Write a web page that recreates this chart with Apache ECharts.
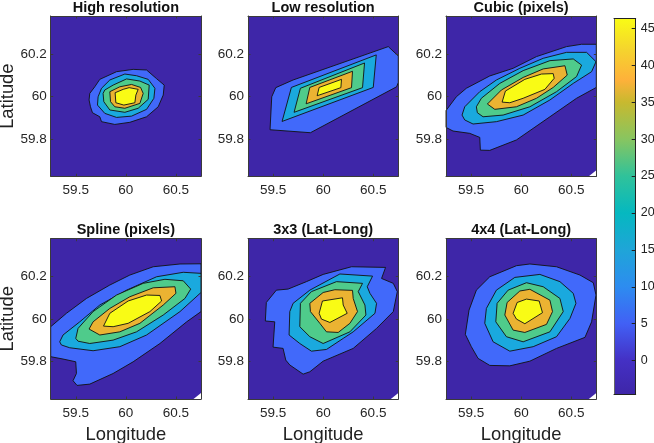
<!DOCTYPE html>
<html>
<head>
<meta charset="utf-8">
<style>html,body{margin:0;padding:0;background:#fff}#main{width:654px;height:443px}</style>
<script src="https://cdn.jsdelivr.net/npm/echarts@6/dist/echarts.min.js"></script>
</head>
<body>
<div id="main"></div>
<script>
// contour outlines in [lon, lat], lowest level first
var highRes = [
  [[59.633,59.983],[59.647,59.951],[59.667,59.923],[59.74,59.904],[59.757,59.881],[59.89,59.868],[60.04,59.878],[60.207,59.904],[60.323,59.951],[60.373,60.006],[60.383,60.053],[60.307,60.083],[60.207,60.124],[60.073,60.127],[59.907,60.116],[59.74,60.08],[59.69,60.045],[59.64,60.014]],
  [[59.723,59.998],[59.717,59.959],[59.79,59.92],[59.907,59.901],[60.057,59.907],[60.207,59.939],[60.28,59.991],[60.29,60.038],[60.223,60.08],[60.107,60.097],[59.99,60.105],[59.84,60.077],[59.757,60.038]],
  [[59.773,60.014],[59.78,59.975],[59.84,59.936],[59.99,59.925],[60.123,59.944],[60.223,59.986],[60.233,60.053],[60.14,60.072],[60.007,60.082],[59.873,60.053],[59.79,60.03]],
  [[59.84,60.022],[59.847,59.975],[59.89,59.951],[59.99,59.944],[60.14,59.967],[60.173,60.014],[60.147,60.042],[60.057,60.056],[59.94,60.045]],
  [[59.893,60.017],[59.9,59.97],[59.98,59.959],[60.09,59.97],[60.1,60.006],[60.123,60.033],[60.033,60.041],[59.973,60.033]]
];
var lowRes = [
  [[59.47,59.843],[59.873,59.829],[60.733,60.045],[60.75,60.065],[60.75,60.19],[60.65,60.234],[59.7,60.077],[59.527,60.041],[59.487,59.998]],
  [[59.59,59.882],[60.5,60.042],[60.53,60.195],[59.683,60.042]],
  [[59.71,59.925],[60.393,60.041],[60.413,60.157],[59.773,60.038]],
  [[59.83,59.965],[60.283,60.041],[60.293,60.118],[59.867,60.042]],
  [[59.94,60.003],[60.177,60.041],[60.183,60.08],[59.96,60.042]]
];
var cubicPixels = [
  [[59.25,59.933],[59.353,59.998],[59.453,60.038],[59.687,60.096],[59.92,60.132],[60.153,60.187],[60.453,60.234],[60.603,60.245],[60.75,60.245],[60.75,60.042],[60.553,59.991],[60.287,59.904],[59.953,59.795],[59.687,59.746],[59.593,59.747],[59.587,59.807],[59.487,59.826],[59.32,59.837],[59.25,59.854]],
  [[59.41,59.912],[59.437,59.951],[59.587,60.022],[59.753,60.077],[59.987,60.132],[60.22,60.179],[60.453,60.207],[60.653,60.207],[60.747,60.163],[60.703,60.116],[60.52,60.061],[60.287,59.983],[60.02,59.912],[59.753,59.881],[59.52,59.87],[59.437,59.889]],
  [[59.553,59.951],[59.603,59.991],[59.787,60.061],[60.02,60.121],[60.287,60.168],[60.52,60.176],[60.603,60.147],[60.553,60.093],[60.353,60.022],[60.087,59.951],[59.82,59.912],[59.62,59.904],[59.563,59.923]],
  [[59.663,59.964],[59.803,60.03],[60.02,60.089],[60.22,60.129],[60.437,60.144],[60.46,60.1],[60.32,60.042],[60.153,59.991],[59.953,59.951],[59.737,59.939]],
  [[59.81,59.973],[59.843,60.025],[60.037,60.08],[60.203,60.105],[60.32,60.107],[60.33,60.085],[60.237,60.033],[60.02,59.991],[59.887,59.97]]
];
var splinePixels = [
  [[59.25,59.964],[59.407,60.027],[59.607,60.097],[59.84,60.16],[60.04,60.207],[60.273,60.246],[60.54,60.259],[60.75,60.26],[60.75,60.035],[60.607,59.987],[60.34,59.885],[60.073,59.799],[59.873,59.744],[59.64,59.694],[59.513,59.688],[59.473,59.71],[59.507,59.744],[59.5,59.799],[59.373,59.812],[59.25,59.823]],
  [[59.34,59.893],[59.373,59.925],[59.54,59.987],[59.74,60.066],[60.007,60.136],[60.307,60.199],[60.573,60.22],[60.75,60.215],[60.75,60.125],[60.54,60.035],[60.207,59.925],[59.94,59.87],[59.673,59.851],[59.44,59.865],[59.357,59.878]],
  [[59.5,59.909],[59.523,59.956],[59.673,60.035],[59.907,60.113],[60.173,60.168],[60.39,60.187],[60.573,60.18],[60.647,60.141],[60.59,60.097],[60.373,60.019],[60.107,59.94],[59.873,59.901],[59.64,59.885],[59.523,59.896]],
  [[59.633,59.953],[59.673,59.987],[59.84,60.05],[60.04,60.105],[60.273,60.147],[60.49,60.152],[60.5,60.121],[60.373,60.066],[60.14,59.98],[59.94,59.94],[59.74,59.925]],
  [[59.777,59.967],[59.84,60.027],[60.023,60.085],[60.207,60.113],[60.34,60.111],[60.357,60.085],[60.24,60.035],[60.023,59.98],[59.873,59.964]]
];
var latLong3 = [
  [[59.423,59.991],[59.433,60.078],[59.533,60.136],[59.65,60.141],[59.833,60.176],[60,60.21],[60.283,60.246],[60.623,60.243],[60.583,60.191],[60.7,60.168],[60.74,60.129],[60.7,60.035],[60.533,59.956],[60.3,59.862],[60,59.802],[59.867,59.752],[59.8,59.741],[59.667,59.784],[59.627,59.807],[59.6,59.862],[59.5,59.868],[59.517,59.987]],
  [[59.66,59.925],[59.667,60.035],[59.7,60.074],[59.867,60.136],[60.167,60.212],[60.493,60.202],[60.44,60.152],[60.467,60.121],[60.533,60.074],[60.517,60.027],[60.3,59.94],[60.2,59.909],[60.033,59.857],[59.883,59.849],[59.767,59.885]],
  [[59.767,59.964],[59.773,60.074],[59.883,60.129],[60.133,60.176],[60.393,60.168],[60.35,60.129],[60.417,60.066],[60.427,60.019],[60.267,59.94],[60,59.885],[59.867,59.917]],
  [[59.867,60.074],[60,60.125],[60.117,60.138],[60.293,60.135],[60.3,60.097],[60.343,60.035],[60.267,59.98],[60.15,59.937],[60.033,59.94],[59.967,59.98],[59.873,60.035]],
  [[59.96,60.027],[59.993,60.085],[60.193,60.1],[60.2,60.066],[60.24,60.027],[60.067,59.984],[59.983,60]]
];
var latLong4 = [
  [[59.443,59.928],[59.48,60.042],[59.553,60.136],[59.687,60.199],[59.953,60.251],[60.087,60.259],[60.353,60.246],[60.587,60.207],[60.72,60.171],[60.747,60.113],[60.703,59.987],[60.637,59.914],[60.353,59.862],[60.087,59.802],[59.887,59.78],[59.687,59.782],[59.57,59.815],[59.503,59.87]],
  [[59.637,59.98],[59.653,60.05],[59.753,60.136],[59.937,60.196],[60.187,60.21],[60.387,60.176],[60.52,60.121],[60.547,60.074],[60.487,60.003],[60.353,59.917],[60.12,59.87],[59.887,59.849],[59.72,59.893]],
  [[59.747,59.987],[59.76,60.074],[59.87,60.136],[60.053,60.171],[60.22,60.152],[60.387,60.097],[60.42,60.035],[60.287,59.94],[60.02,59.893],[59.853,59.917]],
  [[59.837,60.019],[59.86,60.078],[59.987,60.132],[60.087,60.14],[60.287,60.089],[60.313,60.035],[60.253,59.975],[60.037,59.937],[59.92,59.948]],
  [[59.92,60.027],[59.96,60.078],[60.053,60.094],[60.18,60.085],[60.213,60.03],[60.037,59.978],[59.953,60]]
];

var panelTitles = ['High resolution','Low resolution','Cubic (pixels)','Spline (pixels)','3x3 (Lat-Long)','4x4 (Lat-Long)'];
var panelContours = [highRes, lowRes, cubicPixels, splinePixels, latLong3, latLong4];
var hasCorner = [false, false, true, true, true, true]; // white notch bottom right
var cornerLon = 60.675, cornerLat = 59.652;

var lonRange = [59.25, 60.75], latRange = [59.624, 60.378];
var lonTicks = [59.5, 60, 60.5], latTicks = [59.8, 60, 60.2];
var levelColors = ['#3e26a8','#4169fa','#1aa9de','#4fcb8b','#ebb332','#f9fb15'];

var cbarRange = [-4.56, 46.3];
var cbarTicks = [0, 5, 10, 15, 20, 25, 30, 35, 40, 45];
var cbarStops = [[-4.56,'#3e26a8'],[0,'#4430c4'],[5,'#4160f5'],[10,'#2d8cf0'],[15,'#1fa5d8'],[20,'#05b8c0'],[25,'#30c29a'],[30,'#88c560'],[35,'#c8b92f'],[38,'#feb13a'],[42,'#f5d32e'],[46.3,'#f9fb15']];

var font = '"Liberation Sans"';
var lineColor = '#3a3a3a';
var lefts = [50.7, 248, 446], tops = [16, 238.7];
var W = 150.3, H = 160.3;

var grid = [], xAxis = [], yAxis = [], series = [], title = [];

function polygonSeries(g, polys) {
  return {
    type: 'custom', coordinateSystem: 'cartesian2d', xAxisIndex: g * 2, yAxisIndex: g * 2,
    silent: true, z: 2, animation: false,
    data: polys.map(function (p, i) { return [i]; }),
    renderItem: function (params, api) {
      var i = api.value(0);
      var pts = polys[i].pts.map(function (c) { return api.coord(c); });
      return {
        type: 'polygon', shape: { points: pts },
        style: { fill: polys[i].color, stroke: polys[i].line ? '#111' : null, lineWidth: 0.9 }
      };
    }
  };
}

panelTitles.forEach(function (t, g) {
  var col = g % 3, row = g < 3 ? 0 : 1;
  grid.push({ left: lefts[col], top: tops[row], width: W, height: H, outerBoundsMode: 'none', show: false });
  title.push({ text: t, left: lefts[col] + W / 2, top: row ? 222 : 0, textAlign: 'center', padding: 0,
    textStyle: { fontFamily: font, fontSize: 14.5, fontWeight: 'bold', color: '#111' } });

  var xName = row ? 'Longitude' : '', yName = col ? '' : 'Latitude';
  ['bottom', 'top'].forEach(function (pos, k) {
    xAxis.push({
      gridIndex: g, type: 'value', position: pos, min: lonRange[0], max: lonRange[1], z: 5,
      name: k ? '' : xName, nameLocation: 'middle', nameGap: 26.5,
      nameTextStyle: { fontFamily: font, fontSize: 18.4, color: '#222' },
      splitLine: { show: false },
      axisLine: { show: true, onZero: false, lineStyle: { color: lineColor, width: 1 } },
      axisTick: { show: true, inside: true, length: 2.5, customValues: lonTicks, lineStyle: { color: lineColor } },
      axisLabel: { show: !k, customValues: lonTicks, formatter: function (v) { return String(v); }, margin: 7,
        fontFamily: font, fontSize: 13.5, color: '#262626' }
    });
  });
  ['left', 'right'].forEach(function (pos, k) {
    yAxis.push({
      gridIndex: g, type: 'value', position: pos, min: latRange[0], max: latRange[1], z: 5,
      name: k ? '' : yName, nameLocation: 'middle', nameGap: 32.5,
      nameTextStyle: { fontFamily: font, fontSize: 18.4, color: '#222' },
      splitLine: { show: false },
      axisLine: { show: true, onZero: false, lineStyle: { color: lineColor, width: 1 } },
      axisTick: { show: true, inside: true, length: 2.5, customValues: latTicks, lineStyle: { color: lineColor } },
      axisLabel: { show: !k, customValues: latTicks, formatter: function (v) { return String(v); }, margin: 4,
        fontFamily: font, fontSize: 13.5, color: '#262626' }
    });
  });

  var base = hasCorner[g]
    ? [[lonRange[0], latRange[0]], [cornerLon, latRange[0]], [lonRange[1], cornerLat], [lonRange[1], latRange[1]], [lonRange[0], latRange[1]]]
    : [[lonRange[0], latRange[0]], [lonRange[1], latRange[0]], [lonRange[1], latRange[1]], [lonRange[0], latRange[1]]];
  var polys = [{ pts: base, color: levelColors[0], line: false }];
  panelContours[g].forEach(function (pts, lvl) {
    polys.push({ pts: pts, color: levelColors[lvl + 1], line: true });
  });
  series.push(polygonSeries(g, polys));
});

// colour bar, grid 6
var cbarGrid = 6;
grid.push({ left: 614, top: 18.7, width: 21.7, height: 375.6, outerBoundsMode: 'none', show: false });
['bottom', 'top'].forEach(function (pos) {
  xAxis.push({ gridIndex: cbarGrid, type: 'value', position: pos, min: 0, max: 1, z: 5,
    splitLine: { show: false }, axisTick: { show: false }, axisLabel: { show: false },
    axisLine: { show: true, onZero: false, lineStyle: { color: '#222', width: 1 } } });
});
['right', 'left'].forEach(function (pos, k) {
  yAxis.push({ gridIndex: cbarGrid, type: 'value', position: pos, min: cbarRange[0], max: cbarRange[1], z: 5,
    splitLine: { show: false },
    axisLine: { show: true, onZero: false, lineStyle: { color: k ? '#666' : '#222', width: 1 } },
    axisTick: { show: !k, inside: true, length: 4, customValues: cbarTicks, lineStyle: { color: '#222' } },
    axisLabel: { show: !k, customValues: cbarTicks, formatter: function (v) { return String(v); }, margin: 5,
      fontFamily: font, fontSize: 12.5, color: '#222' } });
});
series.push({
  type: 'custom', coordinateSystem: 'cartesian2d', xAxisIndex: cbarGrid * 2, yAxisIndex: cbarGrid * 2,
  silent: true, z: 2, animation: false, data: [[0]],
  renderItem: function (params, api) {
    var a = api.coord([0, cbarRange[1]]), b = api.coord([1, cbarRange[0]]);
    var span = cbarRange[1] - cbarRange[0];
    return {
      type: 'rect', shape: { x: a[0], y: a[1], width: b[0] - a[0], height: b[1] - a[1] },
      style: { fill: new echarts.graphic.LinearGradient(0, 1, 0, 0, cbarStops.map(function (s) {
        return { offset: (s[0] - cbarRange[0]) / span, color: s[1] };
      })) }
    };
  }
});

var chart = echarts.init(document.getElementById('main'), null, { renderer: 'canvas' });
chart.setOption({ animation: false, backgroundColor: '#fff', title: title, grid: grid, xAxis: xAxis, yAxis: yAxis, series: series });
</script>
</body>
</html>
